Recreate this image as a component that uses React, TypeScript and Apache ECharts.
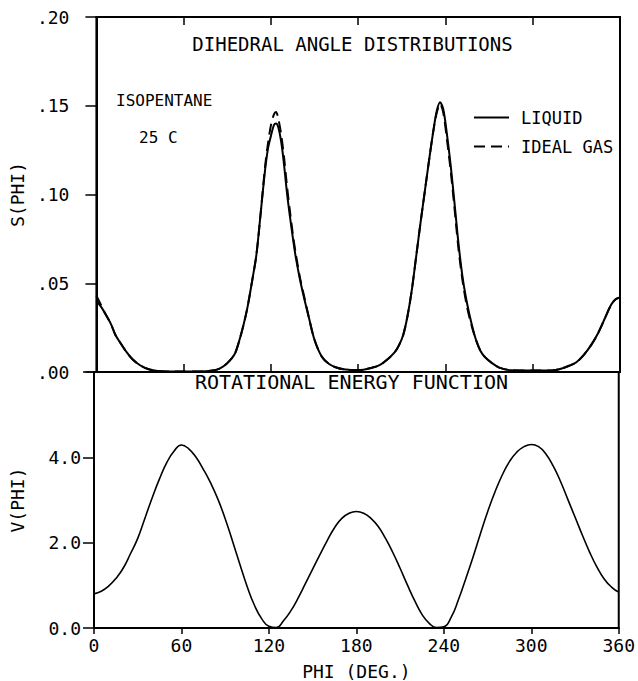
import React, { useEffect, useRef } from "react";
import * as echarts from "echarts";

const FONT = "DejaVu Sans Mono";

const PHI_S = [0, 3, 6, 10, 13, 16, 20, 25, 30, 35, 40, 45, 50, 60, 70, 80, 85, 90, 95, 98, 101, 104, 107, 110, 113, 116, 118, 120, 122, 123.5, 125, 127, 129, 131, 133, 135, 137, 140, 143, 146, 150, 155, 160, 165, 170, 180, 190, 195, 200, 205, 208, 211, 214, 217, 220, 223, 226, 228.5, 231.5, 234, 236.3, 238.5, 241, 243.5, 246, 249, 252, 255, 258, 261, 264, 267, 272, 277, 285, 300, 310, 315, 320, 325, 330, 335, 340, 345, 350, 354, 357, 360];

const S_LIQUID = [0.040, 0.037, 0.033, 0.027, 0.021, 0.017, 0.012, 0.007, 0.0038, 0.0018, 0.0008, 0.0004, 0.0003, 0.0003, 0.0003, 0.0008, 0.002, 0.005, 0.010, 0.017, 0.026, 0.037, 0.051, 0.066, 0.090, 0.114, 0.126, 0.133, 0.139, 0.140, 0.138, 0.130, 0.117, 0.101, 0.088, 0.076, 0.065, 0.052, 0.041, 0.031, 0.018, 0.0086, 0.0045, 0.0025, 0.0015, 0.001, 0.0025, 0.004, 0.007, 0.011, 0.015, 0.021, 0.032, 0.047, 0.066, 0.085, 0.103, 0.118, 0.135, 0.147, 0.152, 0.148, 0.134, 0.117, 0.097, 0.072, 0.052, 0.038, 0.027, 0.018, 0.012, 0.0085, 0.005, 0.0025, 0.001, 0.0008, 0.0008, 0.001, 0.002, 0.0035, 0.0055, 0.0095, 0.015, 0.022, 0.031, 0.038, 0.041, 0.042];

const S_GAS = [0.043, 0.038, 0.033, 0.027, 0.021, 0.017, 0.012, 0.007, 0.0038, 0.0018, 0.0008, 0.0004, 0.0003, 0.0003, 0.0003, 0.0008, 0.002, 0.005, 0.010, 0.017, 0.026, 0.037, 0.051, 0.066, 0.090, 0.116, 0.129, 0.139, 0.145, 0.1465, 0.143, 0.134, 0.121, 0.105, 0.091, 0.078, 0.067, 0.053, 0.042, 0.031, 0.018, 0.0086, 0.0045, 0.0025, 0.0015, 0.001, 0.0025, 0.004, 0.007, 0.011, 0.015, 0.021, 0.032, 0.047, 0.066, 0.085, 0.103, 0.118, 0.135, 0.146, 0.151, 0.146, 0.131, 0.114, 0.094, 0.069, 0.050, 0.036, 0.026, 0.018, 0.012, 0.0085, 0.005, 0.0025, 0.001, 0.0008, 0.0008, 0.001, 0.002, 0.0035, 0.0055, 0.0095, 0.015, 0.022, 0.031, 0.038, 0.041, 0.042];

const PHI_V = [0, 5, 10, 15, 20, 25, 30, 35, 40, 45, 50, 55, 60, 65, 70, 75, 80, 85, 90, 95, 100, 105, 110, 115, 120, 125, 130, 135, 140, 145, 150, 155, 160, 165, 170, 175, 180, 185, 190, 195, 200, 205, 210, 215, 220, 225, 230, 235, 240, 245, 250, 255, 260, 265, 270, 275, 280, 285, 290, 295, 300, 305, 310, 315, 320, 325, 330, 335, 340, 345, 350, 355, 360];

const V_VALUES = [0.80, 0.86, 0.98, 1.16, 1.40, 1.74, 2.10, 2.58, 3.06, 3.50, 3.88, 4.15, 4.29, 4.20, 4.00, 3.72, 3.40, 3.02, 2.56, 2.04, 1.50, 0.98, 0.54, 0.22, 0.04, 0.01, 0.17, 0.40, 0.70, 1.04, 1.38, 1.72, 2.05, 2.35, 2.57, 2.69, 2.73, 2.69, 2.57, 2.38, 2.10, 1.77, 1.40, 1.01, 0.64, 0.32, 0.11, 0.01, 0.03, 0.25, 0.66, 1.15, 1.66, 2.20, 2.72, 3.18, 3.58, 3.90, 4.12, 4.25, 4.30, 4.25, 4.08, 3.80, 3.44, 3.02, 2.60, 2.18, 1.78, 1.43, 1.15, 0.96, 0.84];

const S_TICK_LABELS: Record<string, string> = { "0": ".00", "0.05": ".05", "0.1": ".10", "0.15": ".15", "0.2": ".20" };
const V_TICK_LABELS: Record<string, string> = { "0": "0.0", "2": "2.0", "4": "4.0", "6": "" };

const TITLE_TOP = "DIHEDRAL ANGLE DISTRIBUTIONS";
const TITLE_BOTTOM = "ROTATIONAL ENERGY FUNCTION";
const SUBSTANCE = "ISOPENTANE";
const TEMPERATURE = "25 C";
const SERIES_NAMES = ["LIQUID", "IDEAL GAS"];

export default function App() {
  const ref = useRef<HTMLDivElement>(null);
  useEffect(() => {
    if (!ref.current) return;
    const chart = echarts.init(ref.current, null, { renderer: "svg" });
    const black = "#000";
    const txt = (size: number) => ({ fontFamily: FONT, fontSize: size, color: black });
    const zip = (xs: number[], ys: number[]) => xs.map((x, i) => [x, ys[i]]);
    const G0 = { left: 91.5, right: 18, top: 17, height: 355 };
    const G1 = { left: 91.5, right: 18, top: 372, height: 265 };
    const line = { show: true, onZero: false, lineStyle: { color: black, width: 2 } };
    chart.setOption({
      animation: false,
      backgroundColor: "#fff",
      grid: [
        { ...G0, show: true, borderColor: black, borderWidth: 2, backgroundColor: "transparent" },
        { ...G1, show: true, borderColor: black, borderWidth: 2, backgroundColor: "transparent" },
      ],
      legend: {
        data: SERIES_NAMES,
        orient: "vertical",
        left: 473,
        top: 109,
        padding: 0,
        itemWidth: 35,
        itemHeight: 18,
        itemGap: 12,
        itemStyle: { opacity: 0 },
        textStyle: { ...txt(17), padding: [0, 0, 0, 7] },
      },
      xAxis: [
        {
          type: "value", gridIndex: 0, min: 0, max: 360, interval: 60, position: "bottom",
          axisLine: line,
          axisTick: { show: true, inside: true, length: 8, lineStyle: { color: black, width: 1.5 } },
          axisLabel: { show: false }, splitLine: { show: false },
        },
        {
          type: "value", gridIndex: 0, min: 0, max: 360, interval: 60, position: "top",
          axisLine: line,
          axisTick: { show: true, inside: true, length: 8, lineStyle: { color: black, width: 1.5 } },
          axisLabel: { show: false }, splitLine: { show: false },
        },
        {
          type: "value", gridIndex: 1, min: 0, max: 360, interval: 60, position: "bottom",
          name: "PHI (DEG.)", nameLocation: "middle", nameGap: 34, nameTextStyle: txt(18),
          axisLine: line,
          axisTick: { show: true, inside: false, length: 6, lineStyle: { color: black, width: 1.5 } },
          axisLabel: { show: true, margin: 8, ...txt(18) }, splitLine: { show: false },
        },
      ],
      yAxis: [
        {
          type: "value", gridIndex: 0, min: 0, max: 0.2, interval: 0.05, position: "left",
          name: "S(PHI)", nameLocation: "middle", nameGap: 68, nameRotate: 90, nameTextStyle: txt(18),
          axisLine: line,
          axisTick: { show: true, inside: false, length: 11, lineStyle: { color: black, width: 1.5 } },
          axisLabel: { margin: 27, ...txt(18), formatter: (v: number) => S_TICK_LABELS[String(Math.round(v * 100) / 100)] ?? "" },
          splitLine: { show: false },
        },
        {
          type: "value", gridIndex: 1, min: 0, max: 6, interval: 2, position: "left",
          name: "V(PHI)", nameLocation: "middle", nameGap: 68, nameRotate: 90, nameTextStyle: txt(18),
          axisLine: line,
          axisTick: { show: true, inside: false, length: 11, lineStyle: { color: black, width: 1.5 } },
          axisLabel: { margin: 13, ...txt(18), formatter: (v: number) => V_TICK_LABELS[String(v)] ?? "" },
          splitLine: { show: false },
        },
      ],
      series: [
        {
          name: SERIES_NAMES[0], type: "line", xAxisIndex: 0, yAxisIndex: 0,
          data: zip(PHI_S, S_LIQUID), smooth: 0.3, symbol: "none",
          lineStyle: { color: black, width: 2 }, itemStyle: { color: black },
        },
        {
          name: SERIES_NAMES[1], type: "line", xAxisIndex: 0, yAxisIndex: 0,
          data: zip(PHI_S, S_GAS), smooth: 0.3, symbol: "none",
          lineStyle: { color: black, width: 2, type: [11, 6] }, itemStyle: { color: black },
        },
        {
          name: "V", type: "line", xAxisIndex: 2, yAxisIndex: 1,
          data: zip(PHI_V, V_VALUES), smooth: 0.5, symbol: "none",
          lineStyle: { color: black, width: 1.6 }, itemStyle: { color: black },
        },
      ],
      graphic: [
        { type: "text", style: { text: TITLE_TOP, x: 352.5, y: 44, textAlign: "center", textVerticalAlign: "middle", fontFamily: FONT, fontSize: 19, fill: black } },
        { type: "text", style: { text: SUBSTANCE, x: 116, y: 100, textAlign: "left", textVerticalAlign: "middle", fontFamily: FONT, fontSize: 16, fill: black } },
        { type: "text", style: { text: TEMPERATURE, x: 139, y: 137, textAlign: "left", textVerticalAlign: "middle", fontFamily: FONT, fontSize: 16, fill: black } },
        { type: "text", style: { text: TITLE_BOTTOM, x: 351.5, y: 382, textAlign: "center", textVerticalAlign: "middle", fontFamily: FONT, fontSize: 20, fill: black } },
      ],
    });
    return () => chart.dispose();
  }, []);
  return <div ref={ref} style={{ position: "fixed", left: 0, top: 0, width: 638, height: 681, background: "#fff" }} />;
}
